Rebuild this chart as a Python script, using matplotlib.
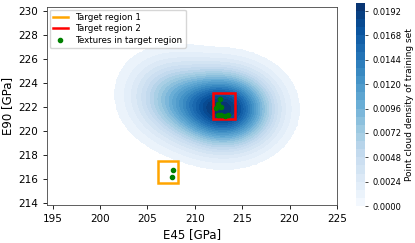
import numpy as np
import matplotlib
matplotlib.use("Agg")
import matplotlib.pyplot as plt
from matplotlib.lines import Line2D
from matplotlib.patches import Rectangle
from matplotlib.ticker import FormatStrFormatter

# ---- data ----
# density field approximated as a two-component Gaussian mixture
comp_weights = [0.72, 0.28]
comp_means = [(213.3, 221.8), (207.8, 222.7)]
comp_sigmas = [(3.1, 2.0), (3.0, 2.1)]
comp_rho = [0.0, -0.08]

density_levels = np.arange(0, 0.02001, 0.0008)
cbar_ticks = [0.0000, 0.0024, 0.0048, 0.0072, 0.0096, 0.0120, 0.0144, 0.0168, 0.0192]

region1 = dict(x=206.1, y=215.6, w=2.1, h=1.9)
region2 = dict(x=211.9, y=221.0, w=2.3, h=2.1)

tex_e45 = [207.70, 207.64, 212.63, 212.45, 212.74, 212.29, 212.45, 212.81, 213.16, 213.51]
tex_e90 = [216.73, 216.18, 222.68, 222.26, 221.98, 221.90, 221.29, 221.29, 221.24, 221.29]

xticks = [195, 200, 205, 210, 215, 220, 225]
yticks = [214, 216, 218, 220, 222, 224, 226, 228, 230]

# ---- density grid ----
gx = np.linspace(194, 226, 400)
gy = np.linspace(213, 231, 300)
X, Y = np.meshgrid(gx, gy)
Z = np.zeros_like(X)
for w, (mx, my), (sx, sy), r in zip(comp_weights, comp_means, comp_sigmas, comp_rho):
    dx = (X - mx) / sx
    dy = (Y - my) / sy
    q = (dx**2 - 2 * r * dx * dy + dy**2) / (1 - r**2)
    Z += w * np.exp(-0.5 * q) / (2 * np.pi * sx * sy * np.sqrt(1 - r**2))
Z = np.clip(Z, 0, density_levels[-1] - 1e-6)
Zm = np.ma.masked_less(Z, density_levels[1])

fig = plt.figure(figsize=(4.15, 2.43), dpi=100)
ax = fig.add_axes([0.113, 0.156, 0.699, 0.815])
cax = fig.add_axes([0.858, 0.152, 0.022, 0.836])

cs = ax.contourf(X, Y, Zm, levels=density_levels, cmap="Blues")

ax.add_patch(Rectangle((region1["x"], region1["y"]), region1["w"], region1["h"],
                       fill=False, edgecolor="orange", linewidth=1.8, zorder=3))
ax.add_patch(Rectangle((region2["x"], region2["y"]), region2["w"], region2["h"],
                       fill=False, edgecolor="red", linewidth=1.8, zorder=3))
ax.scatter(tex_e45, tex_e90, s=9, color="green", zorder=4)

ax.set_xlim(194.4, 225)
ax.set_ylim(213.8, 230.3)
ax.set_xticks(xticks)
ax.set_yticks(yticks)
ax.tick_params(labelsize=7.5, length=3, width=0.6)
ax.set_xlabel("E45 [GPa]", fontsize=8.5, labelpad=3)
ax.set_ylabel("E90 [GPa]", fontsize=8.5, labelpad=3)
for s in ax.spines.values():
    s.set_linewidth(0.6)
    s.set_color("#444444")

handles = [Line2D([0], [0], color="orange", lw=1.8),
           Line2D([0], [0], color="red", lw=1.8),
           Line2D([0], [0], marker="o", color="green", lw=0, markersize=3)]
ax.legend(handles, ["Target region 1", "Target region 2", "Textures in target region"],
          loc="upper left", fontsize=6.3, frameon=True, framealpha=0.8,
          borderpad=0.35, labelspacing=0.3, handlelength=1.8, borderaxespad=0.3)

cb = fig.colorbar(cs, cax=cax, ticks=cbar_ticks)
cb.ax.yaxis.set_major_formatter(FormatStrFormatter("%.4f"))
cb.ax.tick_params(labelsize=6, length=2, width=0.5)
cb.outline.set_visible(False)
cb.set_label("Point cloud density of training set", fontsize=6.5, labelpad=2)

fig.savefig("out.png", dpi=100)
